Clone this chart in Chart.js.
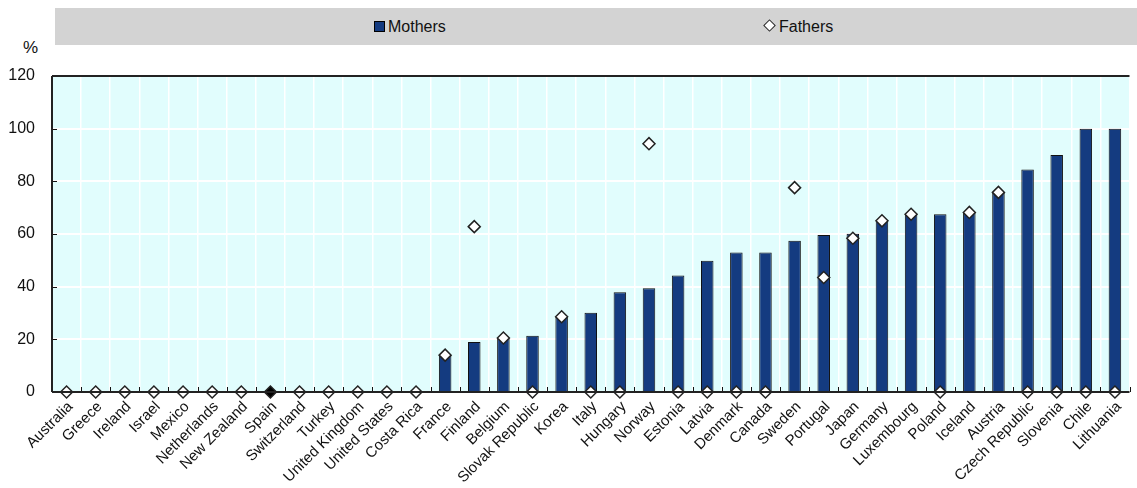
<!DOCTYPE html>
<html>
<head>
<meta charset="utf-8">
<script src="https://cdn.jsdelivr.net/npm/chart.js@4"></script>
<style>
  html, body { margin: 0; padding: 0; background: #fff; }
  #wrap { position: relative; width: 1137px; height: 488px; font-family: "Liberation Sans", Arial, sans-serif; }
  #legend { position: absolute; left: 55px; top: 8px; width: 1082px; height: 37px; background: #d3d3d3; font-size: 16px; color: #111; }
  .leg-item { position: absolute; top: 10px; line-height: 17px; }
  .sq { display: inline-block; width: 9px; height: 9px; background: #143b80; border: 1px solid #000; margin-right: 3px; vertical-align: 0px; }
  .dm { display: inline-block; width: 7px; height: 7px; background: #fff; border: 1.5px solid #222; transform: rotate(45deg); margin-right: 5px; vertical-align: 2px; }
  #unit { position: absolute; left: 23px; top: 38px; font-size: 17px; color: #111; }
  canvas { position: absolute; left: 0; top: 0; }
</style>
</head>
<body>
<div id="wrap">
  <div id="legend">
    <span class="leg-item" style="left:319px"><span class="sq"></span>Mothers</span>
    <span class="leg-item" style="left:710px"><span class="dm"></span>Fathers</span>
  </div>
  <div id="unit">%</div>
  <canvas id="chart" width="1137" height="488"></canvas>
</div>
<script>
  // Share of parents (%) by country
  const countries = [
    "Australia", "Greece", "Ireland", "Israel", "Mexico", "Netherlands",
    "New Zealand", "Spain", "Switzerland", "Turkey", "United Kingdom",
    "United States", "Costa Rica", "France", "Finland", "Belgium",
    "Slovak Republic", "Korea", "Italy", "Hungary", "Norway", "Estonia",
    "Latvia", "Denmark", "Canada", "Sweden", "Portugal", "Japan", "Germany",
    "Luxembourg", "Poland", "Iceland", "Austria", "Czech Republic",
    "Slovenia", "Chile", "Lithuania",
  ];

  const mothers = [
    0, 0, 0, 0, 0, 0, 0, 0, 0, 0, 0, 0, 0,
    14, 19, 20.5, 21.4, 28.6, 30.1, 37.9, 39.4, 44.2, 49.8, 53, 53,
    57.4, 59.6, 60.1, 64.9, 67.5, 67.5, 68, 75.8, 84.5, 90, 100, 100,
  ];

  const fathers = [
    0, 0, 0, 0, 0, 0, 0, 0, 0, 0, 0, 0, 0,
    14, 62.8, 20.5, 0, 28.6, 0, 0, 94.3, 0, 0, 0, 0,
    77.6, 43.5, 58.4, 65, 67.5, 0, 68.2, 75.8, 0, 0, 0, 0,
  ];

  const yTicks = [0, 20, 40, 60, 80, 100, 120];

  // Spain is highlighted with a filled marker
  const fatherFill = countries.map((c) => (c === "Spain" ? "#000000" : "#ffffff"));

  const colorBar = "#143b80";
  const colorPlot = "#e1fdfd";
  const fontFamily = "'Liberation Sans', Arial, sans-serif";

  // Plot background, black frame and small inward tick marks
  const frame = {
    id: "frame",
    beforeDraw(chart) {
      const { ctx, chartArea: a } = chart;
      ctx.save();
      ctx.fillStyle = colorPlot;
      ctx.fillRect(a.left, a.top, a.right - a.left, a.bottom - a.top);
      ctx.restore();
    },
    afterDatasetsDraw(chart) {
      const { ctx, chartArea: a, scales } = chart;
      ctx.save();
      ctx.strokeStyle = "#111";
      ctx.lineWidth = 1;
      // x ticks between categories
      const x = scales.x;
      for (let i = 0; i <= countries.length; i++) {
        const px = Math.round(x.getPixelForValue(i - 0.5)) + 0.5;
        ctx.beginPath();
        ctx.moveTo(px, a.bottom);
        ctx.lineTo(px, a.bottom - 5);
        ctx.stroke();
      }
      // y ticks
      const y = scales.y;
      yTicks.forEach((v) => {
        const py = Math.round(y.getPixelForValue(v)) + 0.5;
        ctx.beginPath();
        ctx.moveTo(a.left, py);
        ctx.lineTo(a.left + 5, py);
        ctx.stroke();
      });
      ctx.lineWidth = 2;
      ctx.strokeStyle = "#222";
      ctx.beginPath();
      ctx.moveTo(a.left, a.top);
      ctx.lineTo(a.right, a.top);
      ctx.moveTo(a.left, a.top);
      ctx.lineTo(a.left, a.bottom);
      ctx.moveTo(a.left, a.bottom);
      ctx.lineTo(a.right, a.bottom);
      ctx.stroke();
      ctx.restore();
    },
  };

  new Chart(document.getElementById("chart"), {
    data: {
      labels: countries,
      datasets: [
        {
          type: "line",
          label: "Fathers",
          data: fathers,
          showLine: false,
          pointStyle: "rectRot",
          pointRadius: 6,
          pointHoverRadius: 6,
          pointBackgroundColor: fatherFill,
          pointBorderColor: "#222",
          pointBorderWidth: 1.5,
          clip: false,
          order: 1,
        },
        {
          type: "bar",
          label: "Mothers",
          data: mothers,
          backgroundColor: colorBar,
          borderColor: "#111",
          borderWidth: 1,
          barPercentage: 0.43,
          categoryPercentage: 1,
          order: 2,
        },
      ],
    },
    options: {
      responsive: false,
      animation: false,
      layout: { padding: { top: 76, right: 0, left: 0, bottom: 0 } },
      plugins: { legend: { display: false }, tooltip: { enabled: false } },
      scales: {
        x: {
          offset: true,
          grid: { offset: true, color: "#ffffff", lineWidth: 1.5, drawTicks: false },
          border: { display: false },
          ticks: {
            autoSkip: false,
            maxRotation: 45,
            minRotation: 45,
            padding: 6,
            labelOffset: 4,
            color: "#111",
            font: { family: fontFamily, size: 15 },
          },
          afterFit(scale) { scale.height = 96; },
        },
        y: {
          min: 0,
          max: 120,
          afterBuildTicks(scale) { scale.ticks = yTicks.map((v) => ({ value: v })); },
          grid: { color: "#ffffff", lineWidth: 2, drawTicks: false },
          border: { display: false },
          ticks: {
            padding: 17,
            color: "#111",
            font: { family: fontFamily, size: 16 },
          },
          afterFit(scale) { scale.width = 52; },
        },
      },
    },
    plugins: [frame],
  });
</script>
</body>
</html>
